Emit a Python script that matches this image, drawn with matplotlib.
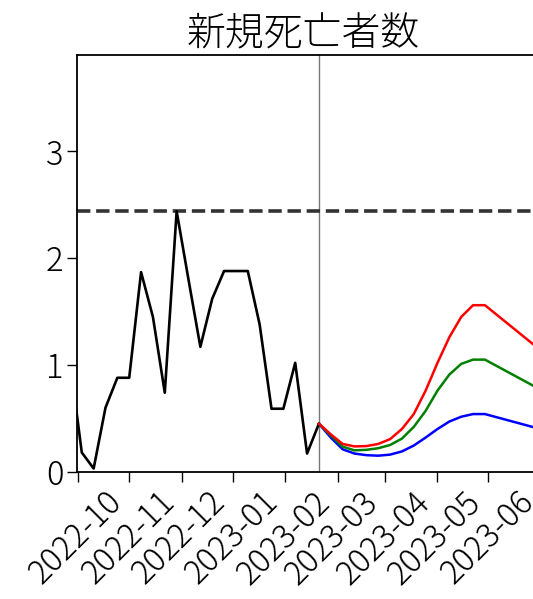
import matplotlib
matplotlib.use("Agg")
import matplotlib.pyplot as plt
import pandas as pd

plt.rcParams['font.family'] = ['Noto Sans CJK JP', 'DejaVu Sans']
plt.rcParams['font.weight'] = 'light'

title = "新規死亡者数"

obs_start = "2022-08-27"
obs_values = [1.04, 0.18, 0.03, 0.60, 0.88, 0.88, 1.87, 1.45, 0.74, 2.44,
              1.80, 1.17, 1.62, 1.88, 1.88, 1.88, 1.38, 0.59, 0.59, 1.02,
              0.17, 0.45]

fc_start = "2023-01-21"
fc_red = [0.45, 0.35, 0.26, 0.237, 0.24, 0.26, 0.305, 0.40, 0.54, 0.76,
          1.02, 1.26, 1.45, 1.56, 1.56, 1.47, 1.38, 1.29, 1.20, 1.11]
fc_green = [0.45, 0.34, 0.235, 0.20, 0.205, 0.22, 0.25, 0.31, 0.42, 0.57,
            0.76, 0.91, 1.01, 1.05, 1.05, 0.99, 0.93, 0.87, 0.81, 0.75]
fc_blue = [0.45, 0.32, 0.21, 0.17, 0.155, 0.15, 0.16, 0.19, 0.245, 0.32,
           0.40, 0.47, 0.515, 0.54, 0.54, 0.51, 0.48, 0.45, 0.42, 0.39]

tick_dates = ["2022-09-01", "2022-10-01", "2022-11-01", "2022-12-01",
              "2023-01-01", "2023-02-01", "2023-03-01", "2023-04-01",
              "2023-05-01", "2023-06-01"]
tick_labels = ["", "2022-10", "2022-11", "2022-12", "2023-01", "2023-02",
               "2023-03", "2023-04", "2023-05", "2023-06"]
y_ticks = [0, 1, 2, 3]

obs_dates = pd.date_range(obs_start, periods=len(obs_values), freq="7D")
fc_dates = pd.date_range(fc_start, periods=len(fc_red), freq="7D")

W, H = 533, 599
fig = plt.figure(figsize=(W / 100, H / 100), dpi=100)
left_px, right_px, top_px, bottom_px = 76.7, 547.6, 55.0, 471.7
ax = fig.add_axes([left_px / W, (H - bottom_px) / H,
                   (right_px - left_px) / W, (bottom_px - top_px) / H])

ax.axvline(obs_dates[-1], color="#777777", lw=1.0, zorder=1)
ax.axhline(max(obs_values), color="#333333", lw=2.6, ls="--", zorder=2)
ax.plot(obs_dates, obs_values, color="black", lw=1.9, zorder=3)
ax.plot(fc_dates, fc_blue, color="blue", lw=1.8, zorder=4)
ax.plot(fc_dates, fc_green, color="green", lw=1.8, zorder=5)
ax.plot(fc_dates, fc_red, color="red", lw=1.8, zorder=6)

ax.set_xlim(pd.Timestamp("2022-08-31"), pd.Timestamp("2023-06-05"))
ax.set_ylim(0, max(obs_values) * 1.6)

ax.set_xticks(pd.to_datetime(tick_dates))
ax.set_xticklabels(tick_labels, rotation=45, ha="right")
ax.set_yticks(y_ticks)
ax.tick_params(axis="both", labelsize=23.5, length=7, width=1.0, pad=2.5)

for s in ax.spines.values():
    s.set_linewidth(1.3)

title_center_px = 303.5
ax.set_title(title, fontsize=28, pad=7, fontweight='light',
             x=(title_center_px - left_px) / (right_px - left_px))

fig.savefig("out.png", dpi=100)
